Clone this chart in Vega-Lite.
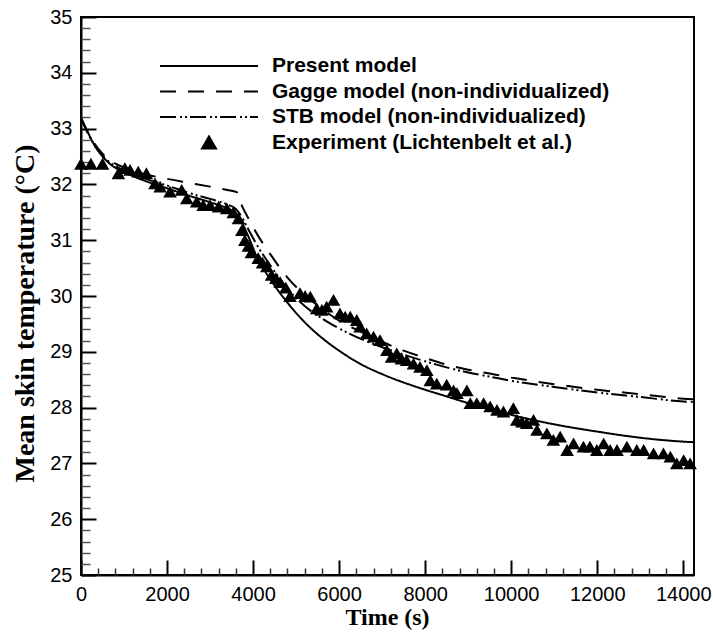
{
  "$schema": "https://vega.github.io/schema/vega-lite/v6.json",
  "width": 613,
  "height": 558,
  "autosize": {"type": "none"},
  "padding": {"left": 81, "top": 17, "right": 19, "bottom": 57},
  "background": "white",
  "config": {
    "view": {"stroke": "black", "strokeWidth": 2},
    "axis": {
      "grid": false,
      "domainColor": "black",
      "domainWidth": 2,
      "tickColor": "black",
      "labelColor": "black",
      "titleColor": "black",
      "labelFont": "Liberation Sans",
      "labelFontSize": 20,
      "titleFont": "Liberation Serif",
      "titleFontWeight": "bold",
      "labelFlush": false,
      "labelOverlap": false
    }
  },
  "datasets": {
    "models": [
      {"series": "Present model", "t": 0, "temp": 33.2},
      {"series": "Present model", "t": 150, "temp": 32.95},
      {"series": "Present model", "t": 300, "temp": 32.72},
      {"series": "Present model", "t": 500, "temp": 32.5},
      {"series": "Present model", "t": 700, "temp": 32.35},
      {"series": "Present model", "t": 1000, "temp": 32.22},
      {"series": "Present model", "t": 1500, "temp": 32.06},
      {"series": "Present model", "t": 2000, "temp": 31.93},
      {"series": "Present model", "t": 2500, "temp": 31.8},
      {"series": "Present model", "t": 3000, "temp": 31.68},
      {"series": "Present model", "t": 3400, "temp": 31.57},
      {"series": "Present model", "t": 3600, "temp": 31.48},
      {"series": "Present model", "t": 3750, "temp": 31.3},
      {"series": "Present model", "t": 3900, "temp": 31.05},
      {"series": "Present model", "t": 4100, "temp": 30.68},
      {"series": "Present model", "t": 4400, "temp": 30.3},
      {"series": "Present model", "t": 4800, "temp": 29.88},
      {"series": "Present model", "t": 5200, "temp": 29.53},
      {"series": "Present model", "t": 5600, "temp": 29.25},
      {"series": "Present model", "t": 6000, "temp": 29.02},
      {"series": "Present model", "t": 6500, "temp": 28.78},
      {"series": "Present model", "t": 7000, "temp": 28.6},
      {"series": "Present model", "t": 7500, "temp": 28.45},
      {"series": "Present model", "t": 8000, "temp": 28.32},
      {"series": "Present model", "t": 8500, "temp": 28.2},
      {"series": "Present model", "t": 9000, "temp": 28.08},
      {"series": "Present model", "t": 9500, "temp": 27.97},
      {"series": "Present model", "t": 10000, "temp": 27.87},
      {"series": "Present model", "t": 11000, "temp": 27.7},
      {"series": "Present model", "t": 12000, "temp": 27.57},
      {"series": "Present model", "t": 13000, "temp": 27.46},
      {"series": "Present model", "t": 14000, "temp": 27.39},
      {"series": "Present model", "t": 14250, "temp": 27.38},
      {"series": "Gagge model (non-individualized)", "t": 0, "temp": 33.18},
      {"series": "Gagge model (non-individualized)", "t": 150, "temp": 32.95},
      {"series": "Gagge model (non-individualized)", "t": 300, "temp": 32.75},
      {"series": "Gagge model (non-individualized)", "t": 500, "temp": 32.55},
      {"series": "Gagge model (non-individualized)", "t": 700, "temp": 32.42},
      {"series": "Gagge model (non-individualized)", "t": 1000, "temp": 32.3},
      {"series": "Gagge model (non-individualized)", "t": 1500, "temp": 32.18},
      {"series": "Gagge model (non-individualized)", "t": 2000, "temp": 32.1},
      {"series": "Gagge model (non-individualized)", "t": 2500, "temp": 32.03},
      {"series": "Gagge model (non-individualized)", "t": 3000, "temp": 31.96},
      {"series": "Gagge model (non-individualized)", "t": 3400, "temp": 31.9},
      {"series": "Gagge model (non-individualized)", "t": 3620, "temp": 31.86},
      {"series": "Gagge model (non-individualized)", "t": 3750, "temp": 31.6},
      {"series": "Gagge model (non-individualized)", "t": 3900, "temp": 31.38},
      {"series": "Gagge model (non-individualized)", "t": 4100, "temp": 31.1},
      {"series": "Gagge model (non-individualized)", "t": 4400, "temp": 30.75},
      {"series": "Gagge model (non-individualized)", "t": 4800, "temp": 30.33},
      {"series": "Gagge model (non-individualized)", "t": 5200, "temp": 30.02},
      {"series": "Gagge model (non-individualized)", "t": 5600, "temp": 29.77},
      {"series": "Gagge model (non-individualized)", "t": 6000, "temp": 29.56},
      {"series": "Gagge model (non-individualized)", "t": 6500, "temp": 29.36},
      {"series": "Gagge model (non-individualized)", "t": 7000, "temp": 29.18},
      {"series": "Gagge model (non-individualized)", "t": 7500, "temp": 29.02},
      {"series": "Gagge model (non-individualized)", "t": 8000, "temp": 28.89},
      {"series": "Gagge model (non-individualized)", "t": 8500, "temp": 28.77},
      {"series": "Gagge model (non-individualized)", "t": 9000, "temp": 28.68},
      {"series": "Gagge model (non-individualized)", "t": 9500, "temp": 28.61},
      {"series": "Gagge model (non-individualized)", "t": 10000, "temp": 28.54},
      {"series": "Gagge model (non-individualized)", "t": 11000, "temp": 28.42},
      {"series": "Gagge model (non-individualized)", "t": 12000, "temp": 28.32},
      {"series": "Gagge model (non-individualized)", "t": 13000, "temp": 28.24},
      {"series": "Gagge model (non-individualized)", "t": 14000, "temp": 28.16},
      {"series": "Gagge model (non-individualized)", "t": 14250, "temp": 28.15},
      {"series": "STB model (non-individualized)", "t": 0, "temp": 33.18},
      {"series": "STB model (non-individualized)", "t": 150, "temp": 32.93},
      {"series": "STB model (non-individualized)", "t": 300, "temp": 32.72},
      {"series": "STB model (non-individualized)", "t": 500, "temp": 32.52},
      {"series": "STB model (non-individualized)", "t": 700, "temp": 32.38},
      {"series": "STB model (non-individualized)", "t": 1000, "temp": 32.25},
      {"series": "STB model (non-individualized)", "t": 1500, "temp": 32.1},
      {"series": "STB model (non-individualized)", "t": 2000, "temp": 31.98},
      {"series": "STB model (non-individualized)", "t": 2500, "temp": 31.85},
      {"series": "STB model (non-individualized)", "t": 3000, "temp": 31.74},
      {"series": "STB model (non-individualized)", "t": 3400, "temp": 31.64},
      {"series": "STB model (non-individualized)", "t": 3600, "temp": 31.56},
      {"series": "STB model (non-individualized)", "t": 3750, "temp": 31.4},
      {"series": "STB model (non-individualized)", "t": 3900, "temp": 31.18},
      {"series": "STB model (non-individualized)", "t": 4100, "temp": 30.9},
      {"series": "STB model (non-individualized)", "t": 4400, "temp": 30.55},
      {"series": "STB model (non-individualized)", "t": 4800, "temp": 30.13},
      {"series": "STB model (non-individualized)", "t": 5200, "temp": 29.82},
      {"series": "STB model (non-individualized)", "t": 5700, "temp": 29.55},
      {"series": "STB model (non-individualized)", "t": 6200, "temp": 29.34},
      {"series": "STB model (non-individualized)", "t": 6800, "temp": 29.14},
      {"series": "STB model (non-individualized)", "t": 7500, "temp": 28.95},
      {"series": "STB model (non-individualized)", "t": 8000, "temp": 28.83},
      {"series": "STB model (non-individualized)", "t": 8600, "temp": 28.7},
      {"series": "STB model (non-individualized)", "t": 9000, "temp": 28.63},
      {"series": "STB model (non-individualized)", "t": 9600, "temp": 28.54},
      {"series": "STB model (non-individualized)", "t": 10000, "temp": 28.48},
      {"series": "STB model (non-individualized)", "t": 11000, "temp": 28.37},
      {"series": "STB model (non-individualized)", "t": 12000, "temp": 28.27},
      {"series": "STB model (non-individualized)", "t": 13000, "temp": 28.19},
      {"series": "STB model (non-individualized)", "t": 14000, "temp": 28.11},
      {"series": "STB model (non-individualized)", "t": 14250, "temp": 28.1}
    ],
    "experiment": [
      {"t": 0, "temp": 32.37}, {"t": 230, "temp": 32.37}, {"t": 500, "temp": 32.37},
      {"t": 870, "temp": 32.2}, {"t": 1020, "temp": 32.29}, {"t": 1140, "temp": 32.26},
      {"t": 1330, "temp": 32.23}, {"t": 1520, "temp": 32.2}, {"t": 1720, "temp": 32.02},
      {"t": 1840, "temp": 31.96}, {"t": 2070, "temp": 31.87}, {"t": 2340, "temp": 31.9},
      {"t": 2460, "temp": 31.75}, {"t": 2690, "temp": 31.69}, {"t": 2840, "temp": 31.63},
      {"t": 3000, "temp": 31.63}, {"t": 3200, "temp": 31.6}, {"t": 3390, "temp": 31.57},
      {"t": 3540, "temp": 31.5}, {"t": 3660, "temp": 31.39}, {"t": 3740, "temp": 31.18},
      {"t": 3810, "temp": 31.0}, {"t": 3890, "temp": 30.9}, {"t": 3960, "temp": 30.78},
      {"t": 4120, "temp": 30.68}, {"t": 4220, "temp": 30.6}, {"t": 4320, "temp": 30.53},
      {"t": 4430, "temp": 30.38}, {"t": 4530, "temp": 30.32}, {"t": 4630, "temp": 30.25},
      {"t": 4760, "temp": 30.15}, {"t": 4860, "temp": 30.0}, {"t": 5090, "temp": 30.05},
      {"t": 5210, "temp": 30.0}, {"t": 5330, "temp": 29.99}, {"t": 5480, "temp": 29.78},
      {"t": 5600, "temp": 29.75}, {"t": 5710, "temp": 29.81}, {"t": 5870, "temp": 29.93},
      {"t": 6020, "temp": 29.69}, {"t": 6140, "temp": 29.63}, {"t": 6260, "temp": 29.63},
      {"t": 6410, "temp": 29.57}, {"t": 6490, "temp": 29.45}, {"t": 6640, "temp": 29.33},
      {"t": 6800, "temp": 29.27}, {"t": 6950, "temp": 29.21}, {"t": 7110, "temp": 29.03},
      {"t": 7220, "temp": 28.91}, {"t": 7340, "temp": 28.97}, {"t": 7450, "temp": 28.88},
      {"t": 7570, "temp": 28.85}, {"t": 7730, "temp": 28.79}, {"t": 7880, "temp": 28.73},
      {"t": 8040, "temp": 28.67}, {"t": 8120, "temp": 28.49}, {"t": 8270, "temp": 28.43},
      {"t": 8500, "temp": 28.41}, {"t": 8660, "temp": 28.31}, {"t": 8740, "temp": 28.26},
      {"t": 8970, "temp": 28.31}, {"t": 9050, "temp": 28.08}, {"t": 9200, "temp": 28.08},
      {"t": 9360, "temp": 28.08}, {"t": 9510, "temp": 28.02}, {"t": 9670, "temp": 27.96},
      {"t": 9820, "temp": 27.93}, {"t": 10050, "temp": 27.99}, {"t": 10130, "temp": 27.78},
      {"t": 10250, "temp": 27.75}, {"t": 10360, "temp": 27.72}, {"t": 10520, "temp": 27.78},
      {"t": 10600, "temp": 27.6}, {"t": 10830, "temp": 27.54}, {"t": 10980, "temp": 27.42},
      {"t": 11140, "temp": 27.48}, {"t": 11300, "temp": 27.24}, {"t": 11450, "temp": 27.36},
      {"t": 11680, "temp": 27.3}, {"t": 11830, "temp": 27.3}, {"t": 11990, "temp": 27.24},
      {"t": 12150, "temp": 27.36}, {"t": 12300, "temp": 27.24}, {"t": 12460, "temp": 27.24},
      {"t": 12690, "temp": 27.3}, {"t": 12920, "temp": 27.24}, {"t": 13080, "temp": 27.24},
      {"t": 13310, "temp": 27.18}, {"t": 13540, "temp": 27.18}, {"t": 13700, "temp": 27.12},
      {"t": 13850, "temp": 27.0}, {"t": 14010, "temp": 27.06}, {"t": 14160, "temp": 27.0}
    ]
  },
  "layer": [
    {
      "data": {"name": "models"},
      "mark": {"type": "line", "color": "black", "strokeWidth": 2, "interpolate": "monotone"},
      "encoding": {
        "x": {
          "field": "t", "type": "quantitative",
          "scale": {"domain": [0, 14250], "nice": false, "zero": false},
          "axis": {
            "orient": "bottom",
            "values": [0, 2000, 4000, 6000, 8000, 10000, 12000, 14000],
            "format": "d",
            "tickSize": -15, "tickWidth": 2, "labelPadding": 24,
            "title": "Time (s)", "titleFontSize": 24,
            "titleX": 306, "titleY": 49, "titleBaseline": "alphabetic", "titleAlign": "center"
          }
        },
        "y": {
          "field": "temp", "type": "quantitative",
          "scale": {"domain": [25, 35], "nice": false, "zero": false},
          "axis": {
            "orient": "left",
            "values": [25, 26, 27, 28, 29, 30, 31, 32, 33, 34, 35],
            "format": "d",
            "tickSize": -15, "tickWidth": 2, "labelPadding": 24,
            "title": "Mean skin temperature (°C)", "titleFontSize": 28,
            "titleAngle": -90, "titleX": -48, "titleY": 296,
            "titleBaseline": "alphabetic", "titleAlign": "center"
          }
        },
        "strokeDash": {
          "field": "series", "type": "nominal",
          "scale": {
            "domain": ["Present model", "Gagge model (non-individualized)", "STB model (non-individualized)", "Experiment (Lichtenbelt et al.)"],
            "range": [[1, 0], [16, 12], [16, 4, 2, 3, 2, 3], [1, 0]]
          },
          "legend": {
            "title": null,
            "orient": "none",
            "legendX": 117.5,
            "legendY": 38.5,
            "padding": 0,
            "rowPadding": 3.5,
            "labelOffset": 52.5,
            "labelFont": "Liberation Sans",
            "labelFontWeight": "bold",
            "labelFontSize": 21,
            "labelColor": "black",
            "labelLimit": 0,
            "symbolSize": 225,
            "symbolStrokeWidth": 2,
            "symbolStrokeColor": "black",
            "encode": {
              "symbols": {
                "update": {
                  "shape": {"signal": "datum.value == 'Experiment (Lichtenbelt et al.)' ? 'M0,-0.8L0.93,0.8L-0.93,0.8Z' : 'M-6.53,0H6.53'"},
                  "size": {"value": 225},
                  "fill": {"value": "black"},
                  "stroke": {"value": "black"},
                  "strokeWidth": {"value": 2}
                }
              }
            }
          }
        }
      }
    },
    {
      "data": {"name": "experiment"},
      "mark": {"type": "point", "shape": "triangle-up", "filled": true, "color": "black", "opacity": 1, "size": 185},
      "encoding": {
        "x": {
          "field": "t", "type": "quantitative",
          "axis": {
            "orient": "bottom",
            "values": [400, 800, 1200, 1600, 2400, 2800, 3200, 3600, 4400, 4800, 5200, 5600, 6400, 6800, 7200, 7600, 8400, 8800, 9200, 9600, 10400, 10800, 11200, 11600, 12400, 12800, 13200, 13600],
            "tickSize": -7, "tickWidth": 1.5, "tickColor": "#333333", "labels": false, "domain": false, "title": null
          }
        },
        "y": {
          "field": "temp", "type": "quantitative",
          "axis": {
            "orient": "left",
            "values": [25.2, 25.4, 25.6, 25.8, 26.2, 26.4, 26.6, 26.8, 27.2, 27.4, 27.6, 27.8, 28.2, 28.4, 28.6, 28.8, 29.2, 29.4, 29.6, 29.8, 30.2, 30.4, 30.6, 30.8, 31.2, 31.4, 31.6, 31.8, 32.2, 32.4, 32.6, 32.8, 33.2, 33.4, 33.6, 33.8, 34.2, 34.4, 34.6, 34.8],
            "tickSize": -9, "tickWidth": 1.5, "tickColor": "#555555", "labels": false, "domain": false, "title": null
          }
        }
      }
    }
  ],
  "resolve": {"axis": {"x": "independent", "y": "independent"}}
}
